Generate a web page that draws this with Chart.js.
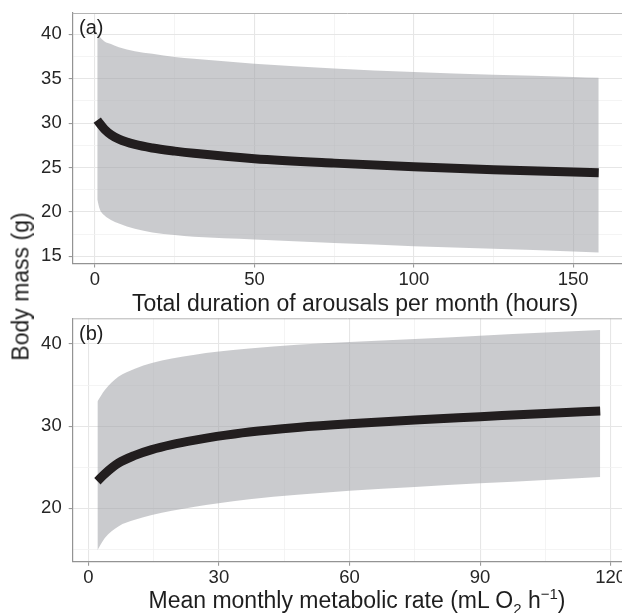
<!DOCTYPE html>
<html>
<head>
<meta charset="utf-8">
<script src="https://cdn.jsdelivr.net/npm/chart.js@4.4.1/dist/chart.umd.min.js"></script>
<style>
  body { margin: 0; background: #fff; }
  #wrap { position: relative; width: 622px; height: 613px; overflow: hidden; font-family: 'Liberation Sans', Arial, sans-serif; color: #1e1e1e; }
  canvas { position: absolute; left: 0; }
  .lbl { position: absolute; white-space: nowrap; }
  .title { font-size: 23px; line-height: 23px; width: 600px; text-align: center; }
  .panel { font-size: 20px; line-height: 20px; left: 79px; }
  sub, sup { font-size: 15px; line-height: 0; }
</style>
</head>
<body>
<div id="wrap">
  <canvas id="chartA" width="622" height="308" style="top:0"></canvas>
  <canvas id="chartB" width="622" height="305" style="top:308px"></canvas>
  <div class="lbl panel" style="top:17px">(a)</div>
  <div class="lbl panel" style="top:323px">(b)</div>
  <div class="lbl title" style="left:55px; top:292px">Total duration of arousals per month (hours)</div>
  <div class="lbl title" style="left:57px; top:589px">Mean monthly metabolic rate (mL O<sub>2</sub> h<sup>&minus;1</sup>)</div>
  <div class="lbl title" style="left:-279px; top:275px; transform: rotate(-90deg);">Body mass (g)</div>
</div>
<script>
// --- Panel (a): body mass vs total arousal duration ---
const durationHours = [0.7, 1.5, 3, 5, 7.5, 12.5, 18, 25, 31, 50, 75, 100, 125, 150, 158];
const massA  = [30.35, 29.95, 29.3, 28.7, 28.2, 27.6, 27.2, 26.85, 26.6, 26.0, 25.5, 25.1, 24.75, 24.5, 24.42];
const upperA = [40.1, 39.7, 39.2, 38.9, 38.55, 38.1, 37.8, 37.45, 37.25, 36.7, 36.15, 35.75, 35.45, 35.2, 35.1];
const lowerA = [21.4, 20.3, 19.6, 19.1, 18.7, 18.1, 17.7, 17.4, 17.2, 16.9, 16.5, 16.15, 15.85, 15.55, 15.45];

// --- Panel (b): body mass vs mean monthly metabolic rate ---
const metabolicRate = [2.1, 3.8, 6.9, 10.7, 14.6, 19.2, 24.5, 29.5, 37, 48, 60, 75, 90, 105, 117.6];
const massB  = [23.3, 24.2, 25.5, 26.45, 27.15, 27.75, 28.3, 28.75, 29.3, 29.85, 30.3, 30.75, 31.15, 31.55, 31.85];
const upperB = [33.0, 34.4, 36.0, 37.0, 37.7, 38.25, 38.7, 39.05, 39.45, 39.9, 40.25, 40.6, 41.0, 41.4, 41.7];
const lowerB = [14.9, 16.4, 17.8, 18.6, 19.2, 19.7, 20.2, 20.6, 21.1, 21.65, 22.15, 22.6, 23.05, 23.45, 23.8];

// tick positions (major labelled, minor grid only)
const xTicksA = [0, 50, 100, 150];
const xMinorA = [25, 75, 125];
const yTicksA = [15, 20, 25, 30, 35, 40];
const yMinorA = [17.5, 22.5, 27.5, 32.5, 37.5];
const xTicksB = [0, 30, 60, 90, 120];
const xMinorB = [15, 45, 75, 105];
const yTicksB = [20, 30, 40];
const yMinorB = [15, 25, 35];

const FONT = "'Liberation Sans', Arial, sans-serif";

// draws the top edge of the panel frame
const topBorder = {
    id: 'topBorder',
    afterDraw(chart) {
        const { ctx, chartArea } = chart;
        ctx.save();
        ctx.strokeStyle = '#b4b4b4';
        ctx.lineWidth = 1;
        ctx.beginPath();
        ctx.moveTo(chartArea.left, chartArea.top + 0.5);
        ctx.lineTo(chartArea.right, chartArea.top + 0.5);
        ctx.stroke();
        ctx.restore();
    }
};

function axisOptions(major, minor, min, max, fitFn) {
    const all = [...major, ...minor].sort((a, b) => a - b);
    return {
        type: 'linear',
        min: min,
        max: max,
        afterBuildTicks: scale => { scale.ticks = all.map(v => ({ value: v })); },
        afterFit: fitFn,
        ticks: {
            autoSkip: false,
            maxRotation: 0,
            color: '#262626',
            font: { family: FONT, size: 18.5 },
            callback: v => major.includes(v) ? String(v) : ''
        },
        grid: {
            color: ctx => minor.includes(ctx.tick.value) ? '#f1f1f1' : '#e6e6e6',
            lineWidth: ctx => minor.includes(ctx.tick.value) ? 0.8 : 1.1,
            tickColor: ctx => minor.includes(ctx.tick.value) ? 'rgba(0,0,0,0)' : '#9a9a9a',
            tickLength: 4
        },
        border: { display: true, color: '#939393', width: 1.2 }
    };
}

function makePanel(canvasId, xs, mid, up, lo, cfg) {
    const pts = arr => xs.map((x, i) => ({ x: x, y: arr[i] }));
    const xAxis = axisOptions(cfg.xTicks, cfg.xMinor, cfg.xMin, cfg.xMax, scale => {
        scale.height = cfg.xHeight;
        scale.paddingLeft = 0;
        scale.paddingRight = 0;
    });
    xAxis.ticks.padding = 1;
    const yAxis = axisOptions(cfg.yTicks, cfg.yMinor, cfg.yMin, cfg.yMax, scale => {
        scale.width = 72.7;
        scale.paddingTop = 0;
        scale.paddingBottom = 0;
    });
    yAxis.ticks.padding = 7;

    return new Chart(document.getElementById(canvasId), {
        type: 'line',
        data: {
            datasets: [
                {
                    data: pts(mid),
                    borderColor: '#221e1f',
                    borderWidth: 9,
                    borderCapStyle: 'butt',
                    cubicInterpolationMode: 'monotone',
                    pointRadius: 0,
                    fill: false,
                    order: 0
                },
                {
                    data: pts(up),
                    borderWidth: 0,
                    borderColor: 'rgba(0,0,0,0)',
                    backgroundColor: 'rgba(158,160,165,0.55)',
                    cubicInterpolationMode: 'monotone',
                    pointRadius: 0,
                    fill: '+1',
                    order: 1
                },
                {
                    data: pts(lo),
                    borderWidth: 0,
                    borderColor: 'rgba(0,0,0,0)',
                    cubicInterpolationMode: 'monotone',
                    pointRadius: 0,
                    fill: false,
                    order: 2
                }
            ]
        },
        options: {
            responsive: false,
            devicePixelRatio: 1,
            animation: false,
            layout: { padding: { top: cfg.padTop, left: 0, right: 0, bottom: 0 } },
            plugins: { legend: { display: false }, tooltip: { enabled: false } },
            scales: { x: xAxis, y: yAxis }
        },
        plugins: [topBorder]
    });
}

makePanel('chartA', durationHours, massA, upperA, lowerA, {
    xTicks: xTicksA, xMinor: xMinorA, xMin: -7.0, xMax: 165.3,
    yTicks: yTicksA, yMinor: yMinorA, yMin: 14.2, yMax: 42.4,
    padTop: 13, xHeight: 44.5
});

makePanel('chartB', metabolicRate, massB, upperB, lowerB, {
    xTicks: xTicksB, xMinor: xMinorB, xMin: -3.58, xMax: 122.6,
    yTicks: yTicksB, yMinor: yMinorB, yMin: 13.5, yMax: 43.13,
    padTop: 10.3, xHeight: 51.3
});
</script>
</body>
</html>
